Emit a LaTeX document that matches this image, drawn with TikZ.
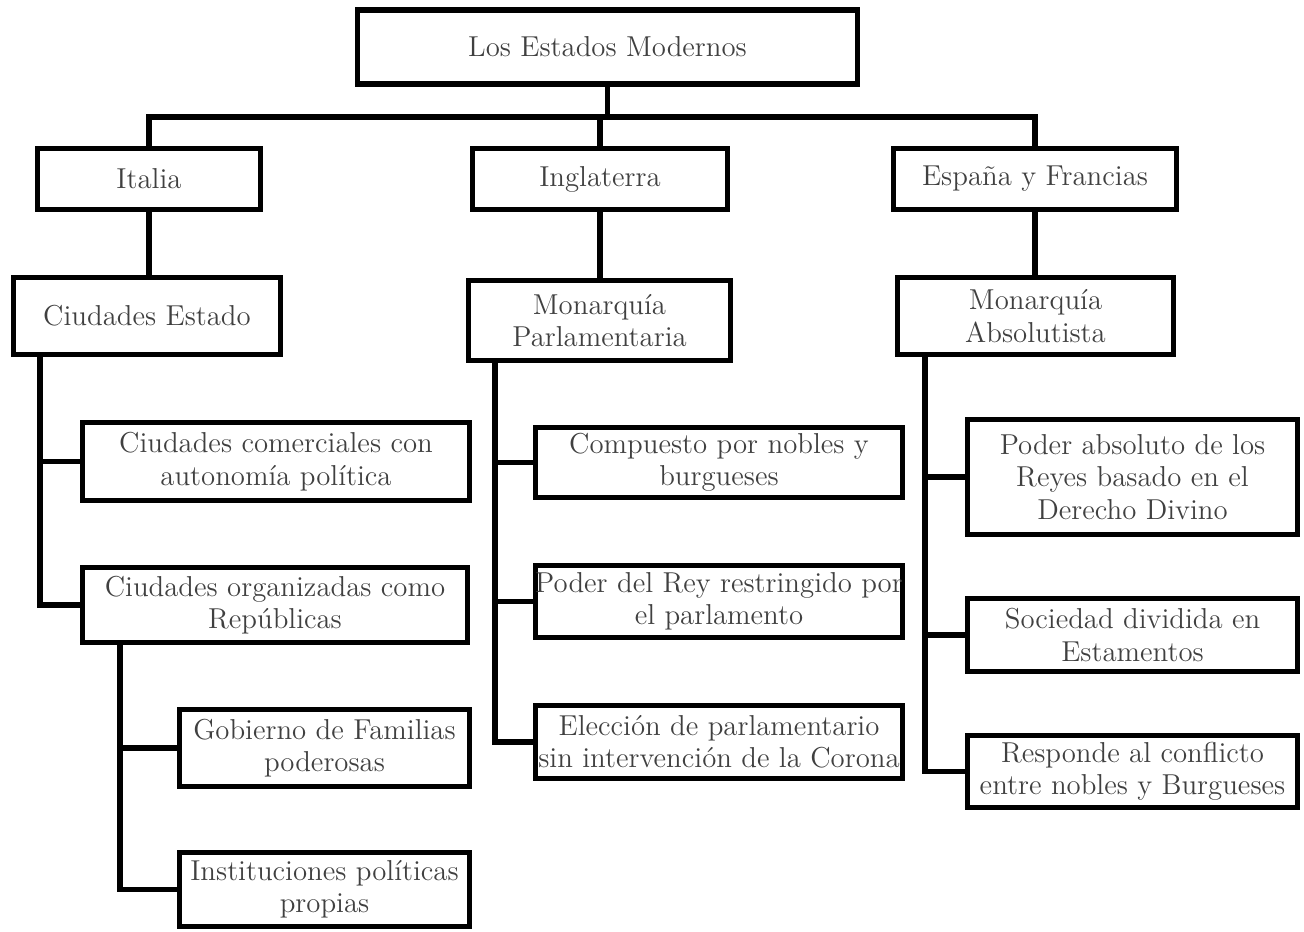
\documentclass[tikz,border=0pt]{standalone}
\usepackage{fontspec}
\begin{document}
\begin{tikzpicture}[x=0.5pt,y=-0.5pt,
  box/.style={draw=black, line width=2.6pt, align=center, inner sep=0pt,
    font=\fontsize{14.4}{16.2}\selectfont, text=black!75},
  conn/.style={draw=black, line width=2.6pt, line cap=rect, line join=miter}]
\useasboundingbox (0,0) rectangle (1304,931);
% level 0
\node[box, minimum width=250pt, minimum height=37pt] (top) at (607.5,47) {Los Estados Modernos};
% level 1
\node[box, minimum width=111.5pt, minimum height=30.5pt] (italia) at (149,179) {Italia};
\node[box, minimum width=127.5pt, minimum height=30.5pt] (ingl) at (600,179) {Inglaterra};
\node[box, minimum width=141.5pt, minimum height=30.5pt] (espana) at (1035,179) {España y Francias};
% level 2
\node[box, minimum width=133.5pt, minimum height=38.5pt] (ciudEst) at (147,316) {Ciudades Estado};
\node[box, minimum width=131pt, minimum height=40pt] (monParl) at (599.5,320.5) {Monarquía\\Parlamentaria};
\node[box, minimum width=138pt, minimum height=38.5pt] (monAbs) at (1035.5,316) {Monarquía\\Absolutista};
% Italia children
\node[box, minimum width=193.5pt, minimum height=39pt] (comerc) at (276,461.5) {Ciudades comerciales con\\autonomía política};
\node[box, minimum width=192.5pt, minimum height=37.5pt] (organiz) at (275,605) {Ciudades organizadas como\\Repúblicas};
\node[box, minimum width=145pt, minimum height=38.5pt] (gobierno) at (324.5,748) {Gobierno de Familias\\poderosas};
\node[box, minimum width=145pt, minimum height=37pt] (instit) at (324.5,889.5) {Instituciones políticas\\propias};
% Inglaterra children
\node[box, minimum width=183.5pt, minimum height=35pt] (compuesto) at (719,462.5) {Compuesto por nobles y\\burgueses};
\node[box, minimum width=183.5pt, minimum height=36pt] (poderRey) at (719,601.5) {Poder del Rey restringido por\\el parlamento};
\node[box, minimum width=183.5pt, minimum height=36.5pt] (eleccion) at (719,742) {Elección de parlamentario\\sin intervención de la Corona};
% España children
\node[box, minimum width=165pt, minimum height=57.5pt] (poderAbs) at (1132.5,477) {Poder absoluto de los\\Reyes basado en el\\Derecho Divino};
\node[box, minimum width=165pt, minimum height=36.5pt] (sociedad) at (1132.5,635) {Sociedad dividida en\\Estamentos};
\node[box, minimum width=165pt, minimum height=36pt] (responde) at (1132.5,771.5) {Responde al conflicto\\entre nobles y Burgueses};
% connector helpers
\coordinate (bar) at (600,117);
\coordinate (iv) at (40,0);
\coordinate (ov) at (120,0);
\coordinate (pv) at (495,0);
\coordinate (ev) at (925,0);
% top level connectors
\draw[conn] (top.south) -- (top.south |- bar);
\draw[conn] (italia.north) |- (bar) -| (espana.north);
\draw[conn] (ingl.north) -- (ingl.north |- bar);
\draw[conn] (italia.south) -- (italia.south |- ciudEst.north);
\draw[conn] (ingl.south) -- (ingl.south |- monParl.north);
\draw[conn] (espana.south) -- (espana.south |- monAbs.north);
% Italia branch
\draw[conn] (iv |- ciudEst.south) |- (organiz.west);
\draw[conn] (iv |- comerc.west) -- (comerc.west);
\draw[conn] (ov |- organiz.south) |- (instit.west);
\draw[conn] (ov |- gobierno.west) -- (gobierno.west);
% Inglaterra branch
\draw[conn] (pv |- monParl.south) |- (eleccion.west);
\draw[conn] (pv |- compuesto.west) -- (compuesto.west);
\draw[conn] (pv |- poderRey.west) -- (poderRey.west);
% España branch
\draw[conn] (ev |- monAbs.south) |- (responde.west);
\draw[conn] (ev |- poderAbs.west) -- (poderAbs.west);
\draw[conn] (ev |- sociedad.west) -- (sociedad.west);
\end{tikzpicture}
\end{document}
